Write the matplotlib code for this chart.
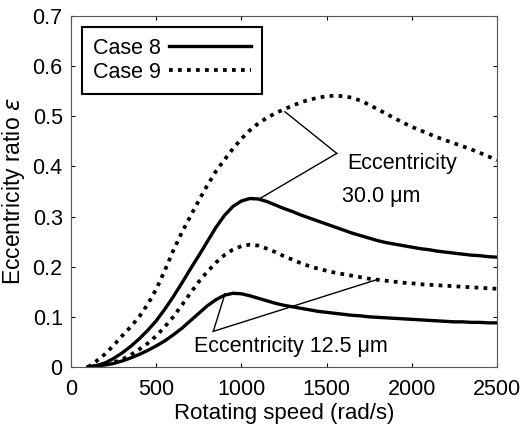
import matplotlib.pyplot as plt

plt.rcParams['font.family'] = ['Liberation Sans', 'DejaVu Sans']

# rotating speed (rad/s)
speed = [100, 150, 200, 250, 300, 350, 400, 450, 500, 550, 600, 650, 700, 750,
         800, 850, 900, 950, 1000, 1050, 1100, 1150, 1200, 1250, 1300, 1350,
         1400, 1450, 1500, 1550, 1600, 1650, 1700, 1750, 1800, 1850, 1900, 1950,
         2000, 2050, 2100, 2150, 2200, 2250, 2300, 2350, 2400, 2450, 2500]

# eccentricity ratio, 30.0 um
case8_30 = [0.0, 0.003, 0.008, 0.017, 0.028, 0.041, 0.056, 0.073, 0.092, 0.115,
            0.14, 0.167, 0.195, 0.222, 0.25, 0.278, 0.302, 0.32, 0.331, 0.336,
            0.335, 0.33, 0.323, 0.316, 0.31, 0.303, 0.297, 0.291, 0.285, 0.279,
            0.273, 0.267, 0.262, 0.257, 0.252, 0.248, 0.245, 0.242, 0.239, 0.236,
            0.234, 0.231, 0.229, 0.227, 0.225, 0.223, 0.222, 0.22, 0.219]
case9_30 = [0.0, 0.012, 0.026, 0.043, 0.062, 0.08, 0.1, 0.125, 0.155, 0.192,
            0.232, 0.268, 0.3, 0.332, 0.362, 0.39, 0.413, 0.435, 0.455, 0.472,
            0.486, 0.497, 0.506, 0.514, 0.521, 0.528, 0.533, 0.537, 0.54, 0.541,
            0.54, 0.537, 0.531, 0.523, 0.514, 0.505, 0.496, 0.487, 0.479, 0.472,
            0.465, 0.458, 0.452, 0.446, 0.44, 0.434, 0.427, 0.42, 0.412]

# eccentricity ratio, 12.5 um
case8_125 = [0.0, 0.002, 0.004, 0.007, 0.012, 0.018, 0.025, 0.033, 0.042, 0.052,
             0.064, 0.077, 0.092, 0.107, 0.122, 0.134, 0.143, 0.147, 0.146, 0.142,
             0.137, 0.132, 0.127, 0.123, 0.12, 0.117, 0.114, 0.111, 0.109, 0.107,
             0.105, 0.103, 0.102, 0.1, 0.099, 0.098, 0.097, 0.096, 0.095, 0.094,
             0.093, 0.092, 0.091, 0.09, 0.09, 0.089, 0.089, 0.088, 0.088]
case9_125 = [0.0, 0.002, 0.005, 0.009, 0.015, 0.024, 0.035, 0.047, 0.062, 0.08,
             0.1, 0.123, 0.147, 0.17, 0.19, 0.208, 0.223, 0.234, 0.241, 0.244,
             0.242, 0.236, 0.229, 0.221, 0.214, 0.207, 0.201, 0.196, 0.192, 0.188,
             0.185, 0.182, 0.179, 0.176, 0.174, 0.172, 0.17, 0.168, 0.167, 0.165,
             0.164, 0.163, 0.162, 0.161, 0.16, 0.159, 0.158, 0.157, 0.156]

# annotation leader lines: vertex -> targets
ann30_vertex = (1560, 0.426)
ann30_targets = [(1256, 0.509), (1109, 0.336)]
ann125_vertex = (835, 0.071)
ann125_targets = [(904, 0.146), (1803, 0.175)]

fig = plt.figure(figsize=(5.32, 4.32), dpi=100)
ax = fig.add_axes([0.1335, 0.1505, 0.8005, 0.8125])

dots = (0, (1, 1.4))
l8, = ax.plot(speed, case8_30, color='black', lw=2.4, label='Case 8')
ax.plot(speed, case8_125, color='black', lw=2.4)
l9, = ax.plot(speed, case9_30, color='black', lw=2.7, linestyle=dots,
              label='Case 9')
ax.plot(speed, case9_125, color='black', lw=2.7, linestyle=dots)

for vx, tg in [(ann30_vertex, ann30_targets), (ann125_vertex, ann125_targets)]:
    for t in tg:
        ax.plot([vx[0], t[0]], [vx[1], t[1]], color='black', lw=1.0)

ax.text(1620, 0.405, 'Eccentricity', fontsize=15.5, va='center', ha='left')
ax.text(1590, 0.34, '30.0 \u03bcm', fontsize=15.5, va='center', ha='left')
ax.text(722, 0.04, 'Eccentricity 12.5 \u03bcm', fontsize=15.5, va='center', ha='left')

ax.set_xlim(0, 2500)
ax.set_ylim(0, 0.7)
ax.set_xticks([0, 500, 1000, 1500, 2000, 2500])
ax.set_yticks([0, 0.1, 0.2, 0.3, 0.4, 0.5, 0.6, 0.7])
ax.set_yticklabels(['0', '0.1', '0.2', '0.3', '0.4', '0.5', '0.6', '0.7'])
ax.tick_params(direction='in', top=True, right=True, labelsize=15.5, length=3,
               width=0.8, pad=6)
ax.tick_params(axis='x', pad=9)
for s in ax.spines.values():
    s.set_linewidth(0.8)
    s.set_color('#555555')

ax.set_xlabel('Rotating speed (rad/s)', fontsize=16, labelpad=2)
ax.set_ylabel('Eccentricity ratio $\\varepsilon$', fontsize=16.5, labelpad=4)

leg = ax.legend(handles=[l8, l9], loc='upper left', markerfirst=False,
                fontsize=15.5, fancybox=False, framealpha=1, edgecolor='black',
                handlelength=3.8, borderaxespad=0.5, handletextpad=0.4,
                labelspacing=0.15, borderpad=0.5)
leg.get_frame().set_linewidth(1.5)

fig.savefig('out.png', dpi=100)
